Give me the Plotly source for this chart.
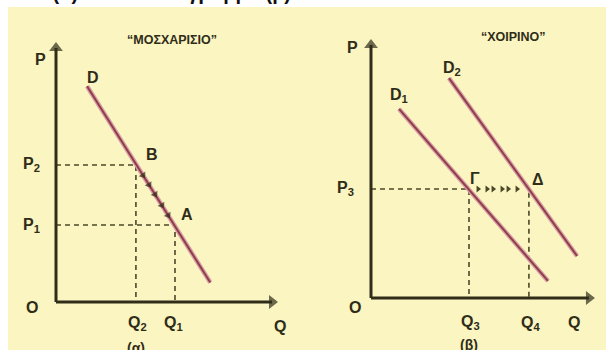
import plotly.graph_objects as go

# ---- panel (α): beef market, movement along one demand curve ----
beef_title = "“ΜΟΣΧΑΡΙΣΙΟ”"
beef_d_q = [1.4, 6.95]          # demand curve D endpoints (quantity)
beef_d_p = [8.3, 0.75]          # demand curve D endpoints (price)
beef_q2, beef_p2 = 3.6, 5.27    # point B
beef_q1, beef_p1 = 5.36, 2.96   # point A
beef_move_q = [3.92, 4.19, 4.46, 4.77, 5.05]   # arrows from B down to A

# ---- panel (β): pork market, shift of the demand curve ----
pork_title = "“ΧΟΙΡΙΝΟ”"
pork_d1_q = [1.25, 7.9]
pork_d1_p = [7.3, 0.66]
pork_d2_q = [3.48, 9.2]
pork_d2_p = [8.49, 1.62]
pork_q3, pork_p3 = 4.375, 4.21  # point Γ
pork_q4 = 7.05                  # point Δ (same price P3)
pork_shift_q = [4.78, 5.18, 5.45, 5.85, 6.12, 6.52]  # arrows from Γ to Δ

axis_q_max = 9.73
axis_p_max = 9.77

W, H = 606, 350
BG = "#fbf5c2"
INK = "#2f2c18"
DASH_INK = "#4b4828"
CURVE_OUT = "#d8a0a6"
CURVE_IN = "#8f3d4a"
FONT = "Liberation Sans"

fig = go.Figure()


def add_axes(xa, ya):
    # horizontal and vertical axes drawn as thick lines ending in arrowheads
    for xs, ys in (([0, axis_q_max], [0, 0]), ([0, 0], [0, axis_p_max])):
        fig.add_trace(go.Scatter(
            x=xs, y=ys, xaxis=xa, yaxis=ya, mode="lines+markers",
            line=dict(color=INK, width=3),
            marker=dict(symbol="triangle-up", size=[0, 12], color=INK,
                        angleref="previous", line=dict(width=0)),
            hoverinfo="skip", showlegend=False, cliponaxis=False))


def add_dashed(xa, ya, xs, ys):
    fig.add_trace(go.Scatter(
        x=xs, y=ys, xaxis=xa, yaxis=ya, mode="lines",
        line=dict(color=DASH_INK, width=1.6, dash="5px,4px"),
        hoverinfo="skip", showlegend=False))


def add_curve(xa, ya, xs, ys):
    fig.add_trace(go.Scatter(
        x=xs, y=ys, xaxis=xa, yaxis=ya, mode="lines",
        line=dict(color=CURVE_OUT, width=4.6),
        hoverinfo="skip", showlegend=False))
    fig.add_trace(go.Scatter(
        x=xs, y=ys, xaxis=xa, yaxis=ya, mode="lines",
        line=dict(color=CURVE_IN, width=2.0),
        hoverinfo="skip", showlegend=False))


def interp_line(qs, p_line_q, p_line_p):
    (q0, q1), (p0, p1) = p_line_q, p_line_p
    return [p0 + (q - q0) * (p1 - p0) / (q1 - q0) for q in qs]


# panel (α)
add_dashed("x", "y", [0, beef_q2, beef_q2], [beef_p2, beef_p2, 0])
add_dashed("x", "y", [0, beef_q1, beef_q1], [beef_p1, beef_p1, 0])
add_curve("x", "y", beef_d_q, beef_d_p)
move_p = interp_line(beef_move_q, beef_d_q, beef_d_p)
fig.add_trace(go.Scatter(
    x=[beef_q2] + beef_move_q, y=[beef_p2] + move_p, xaxis="x", yaxis="y",
    mode="markers",
    marker=dict(symbol="triangle-up", size=[0] + [7] * len(beef_move_q),
                color=INK, angleref="previous", line=dict(width=0)),
    hoverinfo="skip", showlegend=False))
add_axes("x", "y")

# panel (β)
add_dashed("x2", "y2", [0, pork_q3, pork_q3], [pork_p3, pork_p3, 0])
add_dashed("x2", "y2", [pork_q4, pork_q4], [pork_p3 - 0.15, 0])
add_curve("x2", "y2", pork_d1_q, pork_d1_p)
add_curve("x2", "y2", pork_d2_q, pork_d2_p)
fig.add_trace(go.Scatter(
    x=pork_shift_q, y=[pork_p3] * len(pork_shift_q), xaxis="x2", yaxis="y2",
    mode="markers",
    marker=dict(symbol="triangle-right", size=6, color=DASH_INK,
                line=dict(width=0)),
    hoverinfo="skip", showlegend=False))
add_axes("x2", "y2")


def label(text, x, y, xa, ya, dx=0, dy=0, size=16, xanchor="center"):
    fig.add_annotation(
        text=text, x=x, y=y, xref=xa, yref=ya, xshift=dx, yshift=dy,
        xanchor=xanchor, yanchor="middle", showarrow=False,
        font=dict(family=FONT, size=size, color=INK, weight="bold"))


# labels, panel (α)
label("P", 0, axis_p_max, "x", "y", dx=-16, dy=-12)
label("O", 0, 0, "x", "y", dx=-24, dy=-5)
label("D", beef_d_q[0], beef_d_p[0], "x", "y", dx=6, dy=9)
label("B", beef_q2, beef_p2, "x", "y", dx=16, dy=10)
label("A", beef_q1, beef_p1, "x", "y", dx=12, dy=11)
label("P<sub>2</sub>", 0, beef_p2, "x", "y", dx=-14, xanchor="right")
label("P<sub>1</sub>", 0, beef_p1, "x", "y", dx=-14, xanchor="right")
label("Q<sub>2</sub>", beef_q2, 0, "x", "y", dx=2, dy=-21)
label("Q<sub>1</sub>", beef_q1, 0, "x", "y", dx=-1, dy=-21)
label("Q", axis_q_max, 0, "x", "y", dx=8, dy=-24)
label("(α)", beef_q2, 0, "x", "y", dy=-46, size=14)

# labels, panel (β)
label("P", 0, axis_p_max, "x2", "y2", dx=-19, dy=-3)
label("O", 0, 0, "x2", "y2", dx=-16, dy=-9)
label("D<sub>1</sub>", pork_d1_q[0], pork_d1_p[0], "x2", "y2", dx=0, dy=13)
label("D<sub>2</sub>", pork_d2_q[0], pork_d2_p[0], "x2", "y2", dx=3, dy=10)
label("Γ", pork_q3, pork_p3, "x2", "y2", dx=6, dy=10)
label("Δ", pork_q4, pork_p3, "x2", "y2", dx=9, dy=9)
label("P<sub>3</sub>", 0, pork_p3, "x2", "y2", dx=-15, xanchor="right")
label("Q<sub>3</sub>", pork_q3, 0, "x2", "y2", dx=1, dy=-24)
label("Q<sub>4</sub>", pork_q4, 0, "x2", "y2", dx=2, dy=-25)
label("Q", axis_q_max, 0, "x2", "y2", dx=-15, dy=-24)
label("(β)", pork_q3, 0, "x2", "y2", dy=-47, size=14)

# panel titles
for txt, px, py in ((beef_title, 172, 40), (pork_title, 513, 37)):
    fig.add_annotation(
        text=txt, x=px / W, y=1 - py / H, xref="paper", yref="paper",
        showarrow=False, xanchor="center", yanchor="middle",
        font=dict(family=FONT, size=12.5, color=INK, weight="bold"))

# caption line running off the top of the page
fig.add_annotation(
    text="ατα (α) και στο διάγραμμα (β)", x=12 / W, y=1, xref="paper",
    yref="paper", xanchor="left", yanchor="bottom", yshift=-6,
    showarrow=False, font=dict(family=FONT, size=20, color="#111111",
                               weight="bold"))

# pale page background with white edges
fig.add_shape(type="rect", xref="paper", yref="paper",
              x0=8 / W, x1=1, y0=0, y1=1 - 7 / H,
              fillcolor=BG, line=dict(width=0), layer="below")


def axis_range(origin_px, scale, total_px, flip=False):
    if flip:
        return [-(total_px - origin_px) / scale, origin_px / scale]
    return [-origin_px / scale, (total_px - origin_px) / scale]


hidden = dict(visible=False, showgrid=False, zeroline=False, fixedrange=True)
fig.update_layout(
    width=W, height=H,
    margin=dict(l=0, r=0, t=0, b=0, autoexpand=False),
    paper_bgcolor="white", plot_bgcolor="rgba(0,0,0,0)",
    showlegend=False,
    xaxis=dict(domain=[0, 1], range=axis_range(56, 22.2, W), **hidden),
    yaxis=dict(domain=[0, 1], range=axis_range(302, 26.0, H, True), **hidden),
    xaxis2=dict(domain=[0, 1], range=axis_range(371, 22.4, W),
                overlaying="x", **hidden),
    yaxis2=dict(domain=[0, 1], range=axis_range(298, 25.9, H, True),
                overlaying="y", anchor="x2", **hidden),
)

fig.write_html("out.html")
